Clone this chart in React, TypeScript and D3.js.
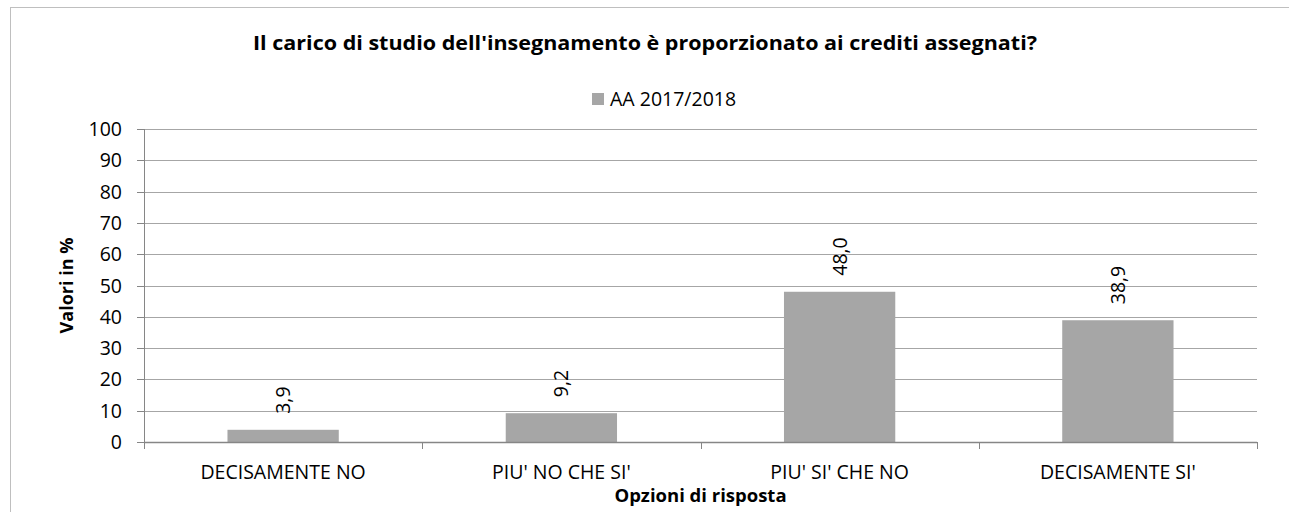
import React, { useEffect, useRef } from 'react';
import * as d3 from 'd3';

const categories = ['DECISAMENTE NO', "PIU' NO CHE SI'", "PIU' SI' CHE NO", "DECISAMENTE SI'"];
const values = [3.9, 9.2, 48.0, 38.9];
const yTicks = [0, 10, 20, 30, 40, 50, 60, 70, 80, 90, 100];
const seriesName = 'AA 2017/2018';
const title = "Il carico di studio dell'insegnamento è proporzionato ai crediti assegnati?";

const FONT = '"Open Sans", Lato, sans-serif';
const FS = 19.5;

const App: React.FC = () => {
  const svgRef = useRef<SVGSVGElement>(null);

  useEffect(() => {
    if (!svgRef.current) return;
    const svg = d3.select(svgRef.current);
    svg.selectAll('*').remove();

    const width = 1289;
    const height = 512;
    const left = 144;
    const right = 1257;
    const top = 129;
    const bottom = 442;

    // chart frame
    svg.append('rect')
      .attr('x', 10.5).attr('y', 7.5)
      .attr('width', width).attr('height', height)
      .attr('fill', '#fff').attr('stroke', '#bfbfbf').attr('stroke-width', 1);

    const x = d3.scaleBand<string>()
      .domain(categories)
      .range([left, right])
      .paddingInner(0.6)
      .paddingOuter(0.3);

    const slot = d3.scaleBand<string>().domain(categories).range([left, right]).padding(0);

    const y = d3.scaleLinear().domain([0, 100]).range([bottom, top]);

    // gridlines
    svg.append('g')
      .selectAll('line')
      .data(yTicks.filter(d => d > 0))
      .join('line')
      .attr('x1', left).attr('x2', right)
      .attr('y1', d => Math.round(y(d)) + 0.5).attr('y2', d => Math.round(y(d)) + 0.5)
      .attr('stroke', '#a6a6a6');

    // y tick marks
    svg.append('g')
      .selectAll('line')
      .data(yTicks)
      .join('line')
      .attr('x1', left - 7).attr('x2', left)
      .attr('y1', d => Math.round(y(d)) + 0.5).attr('y2', d => Math.round(y(d)) + 0.5)
      .attr('stroke', '#868686');

    // y tick labels
    svg.append('g')
      .selectAll('text')
      .data(yTicks)
      .join('text')
      .attr('x', 122)
      .attr('y', d => y(d))
      .attr('dy', '0.36em')
      .attr('text-anchor', 'end')
      .attr('font-family', FONT)
      .attr('font-size', FS)
      .attr('fill', '#000')
      .text(d => d);

    // bars
    svg.append('g')
      .selectAll('rect')
      .data(values)
      .join('rect')
      .attr('x', (d, i) => x(categories[i])!)
      .attr('width', x.bandwidth())
      .attr('y', d => y(d))
      .attr('height', d => bottom - y(d))
      .attr('fill', '#a6a6a6');

    // value labels, rotated, decimal comma
    const fmt = d3.format('.1f');
    svg.append('g')
      .selectAll('text')
      .data(values)
      .join('text')
      .attr('transform', (d, i) => `translate(${x(categories[i])! + x.bandwidth() / 2},${y(d) - 16}) rotate(-90)`)
      .attr('dy', '0.36em')
      .attr('text-anchor', 'start')
      .attr('font-family', FONT)
      .attr('font-size', FS)
      .attr('fill', '#000')
      .text(d => fmt(d).replace('.', ','));

    // axes
    svg.append('line')
      .attr('x1', left + 0.5).attr('x2', left + 0.5)
      .attr('y1', top).attr('y2', bottom)
      .attr('stroke', '#868686');
    svg.append('line')
      .attr('x1', left).attr('x2', right)
      .attr('y1', bottom + 0.5).attr('y2', bottom + 0.5)
      .attr('stroke', '#868686').attr('stroke-width', 1.5);

    const bounds = categories.map(c => slot(c)!).concat([right]);
    svg.append('g')
      .selectAll('line')
      .data(bounds)
      .join('line')
      .attr('x1', d => Math.round(d) + 0.5).attr('x2', d => Math.round(d) + 0.5)
      .attr('y1', bottom).attr('y2', bottom + 7)
      .attr('stroke', '#868686');

    // category labels
    svg.append('g')
      .selectAll('text')
      .data(categories)
      .join('text')
      .attr('x', d => slot(d)! + slot.bandwidth() / 2)
      .attr('y', 479)
      .attr('text-anchor', 'middle')
      .attr('font-family', FONT)
      .attr('font-size', FS)
      .attr('fill', '#000')
      .text(d => d);

    // axis titles
    svg.append('text')
      .attr('x', (left + right) / 2)
      .attr('y', 502)
      .attr('text-anchor', 'middle')
      .attr('font-family', FONT)
      .attr('font-weight', 'bold')
      .attr('font-size', 18.5)
      .text('Opzioni di risposta');

    svg.append('text')
      .attr('transform', `translate(67,${(top + bottom) / 2}) rotate(-90)`)
      .attr('dy', '0.36em')
      .attr('text-anchor', 'middle')
      .attr('font-family', FONT)
      .attr('font-weight', 'bold')
      .attr('font-size', 18)
      .text('Valori in %');

    // title
    svg.append('text')
      .attr('x', 645)
      .attr('y', 50)
      .attr('text-anchor', 'middle')
      .attr('font-family', FONT)
      .attr('font-weight', 'bold')
      .attr('font-size', 20)
      .attr('textLength', 784)
      .attr('lengthAdjust', 'spacingAndGlyphs')
      .text(title);

    // legend
    const lg = svg.append('g');
    lg.append('rect')
      .attr('x', 592).attr('y', 93)
      .attr('width', 12).attr('height', 12)
      .attr('fill', '#a6a6a6');
    lg.append('text')
      .attr('x', 610).attr('y', 106)
      .attr('font-family', FONT)
      .attr('font-size', FS)
      .text(seriesName);
  }, []);

  return (
    <svg
      ref={svgRef}
      width={1289}
      height={512}
      viewBox="0 0 1289 512"
      style={{ position: 'absolute', left: 0, top: 0, display: 'block' }}
    />
  );
};

export default App;
